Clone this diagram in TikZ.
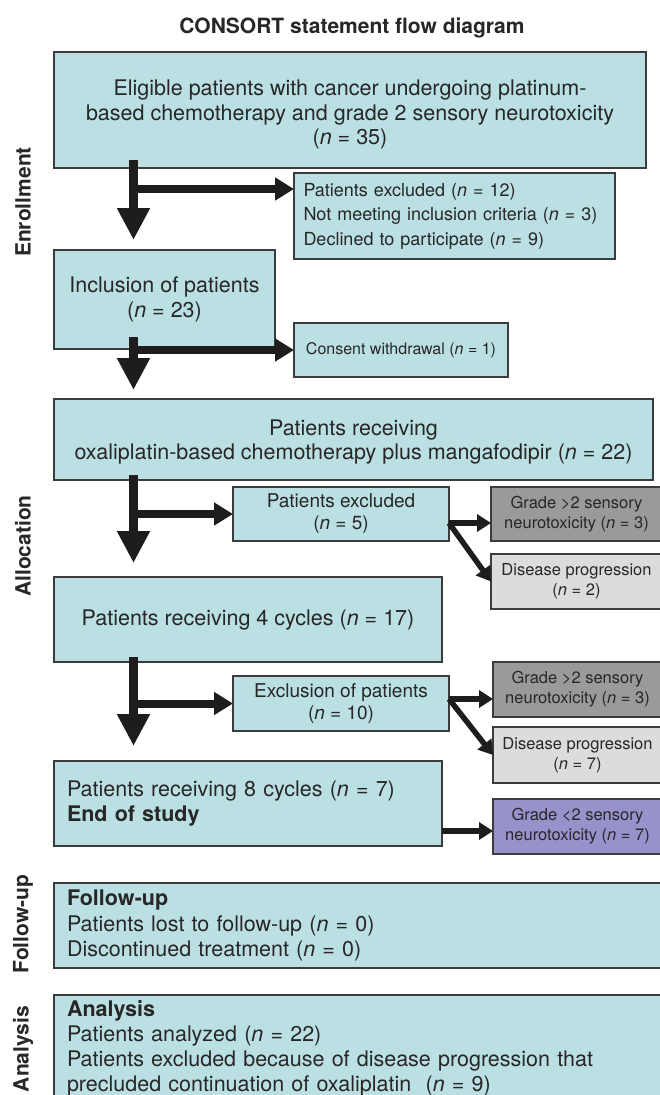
\documentclass[tikz,border=0pt]{standalone}
\usepackage{fontspec}
\setmainfont{TeX Gyre Heros}
\usetikzlibrary{arrows.meta,calc}
\definecolor{boxfill}{RGB}{186,224,228}
\definecolor{darkg}{RGB}{154,154,156}
\definecolor{lightg}{RGB}{219,220,222}
\definecolor{purp}{RGB}{152,146,204}
\definecolor{bord}{RGB}{60,60,60}
\definecolor{txt}{RGB}{40,38,38}
\definecolor{arr}{RGB}{30,28,28}
\newcommand{\mainfs}{\fontsize{21.5}{24.5}\selectfont}
\newcommand{\midfs}{\fontsize{18}{24.5}\selectfont}
\newcommand{\sixfs}{\fontsize{19}{22}\selectfont}
\newcommand{\smfs}{\fontsize{16.5}{20}\selectfont}
\begin{document}
\begin{tikzpicture}[x=1pt,y=-1pt,
  box/.style={draw=bord, line width=1.4pt, fill=boxfill, inner sep=0pt, outer sep=0pt,
    anchor=north west, text=txt, align=center, font=\mainfs},
  dgbox/.style={box, fill=darkg, font=\smfs},
  lgbox/.style={box, fill=lightg, font=\smfs},
  pbox/.style={box, fill=purp, font=\smfs},
  sidelab/.style={rotate=90, font=\bfseries\fontsize{21}{24}\selectfont, text=txt},
  bigarr/.style={draw=arr, line width=9pt, -{Triangle[length=32pt,width=31pt]}},
  medarr/.style={draw=arr, line width=8pt, -{Triangle[length=19pt,width=22pt]}},
  smarr/.style={draw=arr, line width=5.5pt, -{Triangle[length=14pt,width=17pt]}}
]
\clip (0,0) rectangle (660,1095);
\fill[white] (0,0) rectangle (660,1095);

\node[anchor=base, font=\bfseries\fontsize{21}{24}\selectfont, text=txt] (title) at (352,33) {CONSORT statement flow diagram};

% side labels
\node[sidelab] (lenr) at (23,202) {Enrollment};
\node[sidelab] (lall) at (23,546) {Allocation};
\node[sidelab] (lfol) at (23,924) {Follow-up};
\node[sidelab] (lana) at (23,1049) {Analysis};

% boxes
\node[box, minimum width=592pt, minimum height=116pt, text depth=0pt] (b1) at (54,52)
  {\rule{0pt}{20pt}Eligible patients with cancer undergoing platinum-\\based chemotherapy and grade 2 sensory neurotoxicity\\(\textit{n} = 35)};
\node[box, minimum width=321pt, minimum height=86pt, text width=302pt, align=left, font=\midfs] (b2) at (294,173)
  {Patients excluded (\textit{n} = 12)\\Not meeting inclusion criteria (\textit{n} = 3)\\Declined to participate (\textit{n} = 9)};
\node[box, minimum width=221pt, minimum height=99pt, font=\fontsize{21.5}{25}\selectfont] (b3) at (54,250)
  {Inclusion of patients\\(\textit{n} = 23)};
\node[box, minimum width=214pt, minimum height=54pt, font=\fontsize{16}{19}\selectfont] (b4) at (294,323)
  {Consent withdrawal (\textit{n} = 1)};
\node[box, minimum width=599pt, minimum height=81pt] (b5) at (54,399)
  {\rule{0pt}{21pt}Patients receiving\\oxaliplatin-based chemotherapy plus mangafodipir (\textit{n} = 22)};
\node[box, minimum width=216pt, minimum height=54pt, font=\sixfs] (b6) at (233,487)
  {Patients excluded\\(\textit{n} = 5)};
\node[dgbox, minimum width=171pt, minimum height=54pt] (b7) at (491,487)
  {Grade >2 sensory\\neurotoxicity (\textit{n} = 3)};
\node[lgbox, minimum width=171pt, minimum height=55pt] (b8) at (491,554)
  {Disease progression\\(\textit{n} = 2)};
\node[box, minimum width=388pt, minimum height=85pt] (b9) at (54,577)
  {Patients receiving 4 cycles (\textit{n} = 17)};
\node[box, minimum width=216pt, minimum height=55pt, font=\sixfs] (b10) at (233,676)
  {Exclusion of patients\\(\textit{n} = 10)};
\node[dgbox, minimum width=169pt, minimum height=55pt] (b11) at (493,662)
  {Grade >2 sensory\\neurotoxicity (\textit{n} = 3)};
\node[lgbox, minimum width=169pt, minimum height=56pt] (b12) at (493,727)
  {Disease progression\\(\textit{n} = 7)};
\node[box, minimum width=388pt, minimum height=85pt, text width=362pt, align=left] (b13) at (54,761)
  {Patients receiving 8 cycles (\textit{n} = 7)\\\textbf{End of study}};
\node[pbox, minimum width=169pt, minimum height=55pt] (b14) at (493,799)
  {Grade <2 sensory\\neurotoxicity (\textit{n} = 7)};
\node[box, minimum width=610pt, minimum height=85pt, text width=584pt, align=left, font=\fontsize{21.5}{25.5}\selectfont] (b15) at (54,883)
  {\textbf{Follow-up}\\Patients lost to follow-up (\textit{n} = 0)\\Discontinued treatment (\textit{n} = 0)};
\node[box, minimum width=610pt, minimum height=106pt, text width=584pt, align=left, font=\fontsize{21.5}{25}\selectfont] (b16) at (54,995)
  {\textbf{Analysis}\\Patients analyzed (\textit{n} = 22)\\Patients excluded because of disease progression that\\precluded continuation of oxaliplatin\ \ (\textit{n} = 9)};

% main flow arrows
\draw[bigarr] ($(b1.south west)+(79.5,-8)$) -- ($(b3.north west)+(79.5,-10)$);
\draw[medarr] ($(b1.south west)+(79.5,21)$) -- ($(b2.north west)+(0,16)$);
\draw[bigarr] ($(b3.south west)+(79.5,-12)$) -- ($(b5.north west)+(79.5,-9)$);
\draw[medarr] ($(b3.south west)+(79.5,1)$) -- (b4.west);
\draw[bigarr] ($(b5.south west)+(79.5,-5)$) -- ($(b9.north west)+(79.5,-14)$);
\draw[medarr] ($(b5.south west)+(79.5,34)$) -- (b6.west);
\draw[bigarr] ($(b9.south west)+(79.5,-5)$) -- ($(b13.north west)+(79.5,-15)$);
\draw[medarr] ($(b9.south west)+(79.5,41.5)$) -- (b10.west);

% side arrows
\draw[smarr] ($(b6.north east)+(0,36)$) -- ($(b7.north west)+(0,36)$);
\draw[smarr] ($(b6.north east)+(0,36)$) -- (b8.west);
\draw[smarr] ($(b10.north east)+(0,23)$) -- ($(b11.north west)+(0,37)$);
\draw[smarr] ($(b10.north east)+(0,23)$) -- (b12.west);
\draw[smarr] ($(b13.north east)+(0,70)$) -- ($(b14.north west)+(0,32)$);
\end{tikzpicture}
\end{document}
